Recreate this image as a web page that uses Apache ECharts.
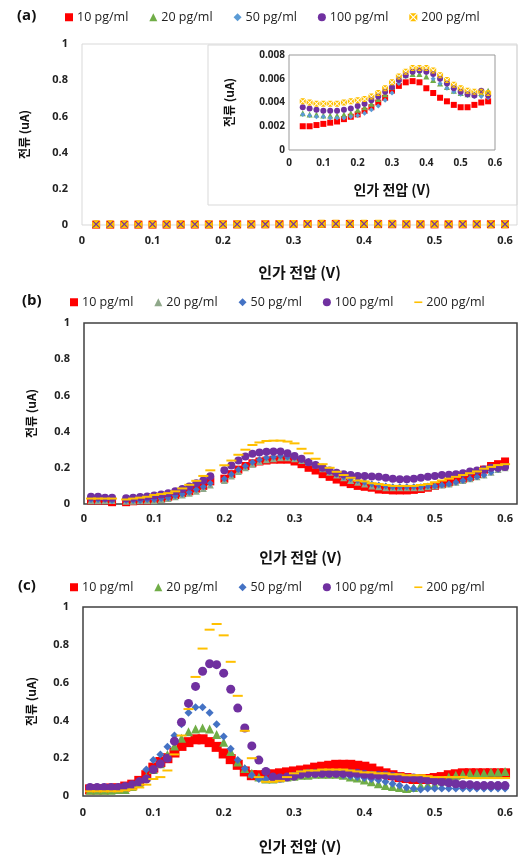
<!DOCTYPE html>
<html>
<head>
<meta charset="utf-8">
<script src="https://cdn.jsdelivr.net/npm/echarts@6.0.0/dist/echarts.min.js"></script>
<style>
body { margin: 0; background: #fff; }
#wrap { position: relative; width: 520px; height: 859px; }
.box { position: absolute; left: 0; width: 520px; }
</style>
</head>
<body>
<div id="wrap">
  <div id="chartA" class="box" style="top:0;height:285px"></div>
  <div id="chartB" class="box" style="top:285px;height:285px"></div>
  <div id="chartC" class="box" style="top:570px;height:289px"></div>
</div>
<script>
// 범례 이름
const names = ['10 pg/ml', '20 pg/ml', '50 pg/ml', '100 pg/ml', '200 pg/ml']

// (a) 0.02 ~ 0.60 V, inset uses 0.04 ~ 0.58
const aX = [0.02, 0.04, 0.06, 0.08, 0.10, 0.12, 0.14, 0.16, 0.18, 0.20, 0.22, 0.24, 0.26, 0.28, 0.30,
  0.32, 0.34, 0.36, 0.38, 0.40, 0.42, 0.44, 0.46, 0.48, 0.50, 0.52, 0.54, 0.56, 0.58, 0.60]
const a10 = [0.0020, 0.0020, 0.0020, 0.0021, 0.0022, 0.0023, 0.0024, 0.0026, 0.0028, 0.0030, 0.0033, 0.0036, 0.0040, 0.0044, 0.0050,
  0.0054, 0.0057, 0.0058, 0.0057, 0.0052, 0.0048, 0.0044, 0.0041, 0.0038, 0.0036, 0.0036, 0.0038, 0.0040, 0.0041, 0.0042]
const a20 = [0.0031, 0.0031, 0.0030, 0.0030, 0.0029, 0.0029, 0.0029, 0.0030, 0.0031, 0.0034, 0.0036, 0.0039, 0.0043, 0.0047, 0.0053,
  0.0060, 0.0063, 0.0064, 0.0064, 0.0062, 0.0059, 0.0056, 0.0053, 0.0050, 0.0048, 0.0047, 0.0047, 0.0048, 0.0050, 0.0050]
const a50 = [0.0030, 0.0030, 0.0029, 0.0028, 0.0028, 0.0027, 0.0027, 0.0027, 0.0028, 0.0029, 0.0031, 0.0034, 0.0037, 0.0042, 0.0048,
  0.0056, 0.0062, 0.0066, 0.0066, 0.0065, 0.0060, 0.0056, 0.0052, 0.0049, 0.0047, 0.0046, 0.0045, 0.0045, 0.0044, 0.0044]
const a100 = [0.0036, 0.0036, 0.0035, 0.0034, 0.0033, 0.0033, 0.0033, 0.0034, 0.0035, 0.0037, 0.0039, 0.0042, 0.0045, 0.0049, 0.0053,
  0.0059, 0.0063, 0.0066, 0.0067, 0.0066, 0.0064, 0.0060, 0.0056, 0.0052, 0.0049, 0.0047, 0.0046, 0.0050, 0.0046, 0.0046]
const a200 = [0.0041, 0.0041, 0.0040, 0.0039, 0.0039, 0.0039, 0.0039, 0.0040, 0.0041, 0.0042, 0.0043, 0.0045, 0.0048, 0.0052, 0.0057,
  0.0062, 0.0066, 0.0069, 0.0069, 0.0069, 0.0067, 0.0063, 0.0059, 0.0055, 0.0052, 0.0050, 0.0049, 0.0049, 0.0048, 0.0048]

// (b) 0.05, 0.19 V 빠짐
const bX = [0.01, 0.02, 0.03, 0.04,
  0.06, 0.07, 0.08, 0.09, 0.10, 0.11, 0.12, 0.13, 0.14, 0.15, 0.16, 0.17, 0.18,
  0.20, 0.21, 0.22, 0.23, 0.24, 0.25, 0.26, 0.27, 0.28, 0.29, 0.30, 0.31, 0.32, 0.33, 0.34, 0.35, 0.36, 0.37, 0.38, 0.39, 0.40,
  0.41, 0.42, 0.43, 0.44, 0.45, 0.46, 0.47, 0.48, 0.49, 0.50, 0.51, 0.52, 0.53, 0.54, 0.55, 0.56, 0.57, 0.58, 0.59, 0.60]
const b10 = [0.02, 0.02, 0.02, 0.01,
  0.01, 0.015, 0.02, 0.02, 0.025, 0.03, 0.04, 0.05, 0.06, 0.07, 0.085, 0.10, 0.125,
  0.14, 0.165, 0.19, 0.21, 0.225, 0.235, 0.24, 0.245, 0.245, 0.245, 0.235, 0.22, 0.20, 0.185, 0.165, 0.15, 0.135, 0.12, 0.11, 0.10, 0.095,
  0.09, 0.08, 0.078, 0.075, 0.075, 0.075, 0.078, 0.083, 0.09, 0.10, 0.11, 0.12, 0.135, 0.14, 0.15, 0.165, 0.19, 0.21, 0.22, 0.235]
const b20 = [0.02, 0.02, 0.02, 0.02,
  0.015, 0.015, 0.02, 0.02, 0.02, 0.025, 0.03, 0.04, 0.05, 0.06, 0.07, 0.085, 0.105,
  0.13, 0.155, 0.18, 0.20, 0.22, 0.235, 0.245, 0.25, 0.255, 0.255, 0.25, 0.24, 0.23, 0.215, 0.195, 0.175, 0.16, 0.145, 0.13, 0.12, 0.11,
  0.10, 0.095, 0.09, 0.09, 0.09, 0.09, 0.09, 0.09, 0.095, 0.10, 0.105, 0.11, 0.12, 0.13, 0.14, 0.15, 0.16, 0.175, 0.19, 0.20]
const b50 = [0.025, 0.025, 0.025, 0.02,
  0.02, 0.02, 0.02, 0.025, 0.025, 0.03, 0.035, 0.045, 0.055, 0.065, 0.08, 0.095, 0.115,
  0.14, 0.165, 0.19, 0.21, 0.23, 0.245, 0.255, 0.26, 0.265, 0.26, 0.255, 0.245, 0.235, 0.22, 0.20, 0.18, 0.165, 0.15, 0.14, 0.13, 0.12,
  0.11, 0.105, 0.10, 0.095, 0.095, 0.095, 0.095, 0.095, 0.10, 0.10, 0.105, 0.11, 0.12, 0.13, 0.14, 0.15, 0.16, 0.175, 0.19, 0.205]
const b100 = [0.04, 0.04, 0.035, 0.035,
  0.032, 0.035, 0.038, 0.041, 0.047, 0.053, 0.06, 0.07, 0.083, 0.097, 0.114, 0.13, 0.153,
  0.186, 0.213, 0.24, 0.263, 0.277, 0.285, 0.288, 0.29, 0.29, 0.28, 0.265, 0.25, 0.23, 0.215, 0.20, 0.185, 0.172, 0.165, 0.16, 0.155, 0.155,
  0.152, 0.15, 0.145, 0.14, 0.137, 0.137, 0.14, 0.145, 0.15, 0.155, 0.16, 0.162, 0.165, 0.17, 0.18, 0.185, 0.19, 0.20, 0.20, 0.205]
const b200 = [0.03, 0.03, 0.03, 0.03,
  0.025, 0.03, 0.035, 0.04, 0.05, 0.055, 0.06, 0.07, 0.086, 0.106, 0.128, 0.155, 0.186,
  0.214, 0.24, 0.272, 0.30, 0.326, 0.34, 0.348, 0.35, 0.35, 0.345, 0.335, 0.305, 0.28, 0.25, 0.22, 0.20, 0.178, 0.16, 0.145, 0.13, 0.125,
  0.115, 0.11, 0.105, 0.10, 0.10, 0.10, 0.10, 0.105, 0.11, 0.12, 0.13, 0.14, 0.15, 0.16, 0.17, 0.18, 0.195, 0.205, 0.215, 0.22]

// (c) 0.01 ~ 0.60 V
const cX = [0.01, 0.02, 0.03, 0.04, 0.05, 0.06, 0.07, 0.08, 0.09, 0.10,
  0.11, 0.12, 0.13, 0.14, 0.15, 0.16, 0.17, 0.18, 0.19, 0.20,
  0.21, 0.22, 0.23, 0.24, 0.25, 0.26, 0.27, 0.28, 0.29, 0.30,
  0.31, 0.32, 0.33, 0.34, 0.35, 0.36, 0.37, 0.38, 0.39, 0.40,
  0.41, 0.42, 0.43, 0.44, 0.45, 0.46, 0.47, 0.48, 0.49, 0.50,
  0.51, 0.52, 0.53, 0.54, 0.55, 0.56, 0.57, 0.58, 0.59, 0.60]
const c10 = [0.035, 0.035, 0.035, 0.04, 0.04, 0.05, 0.06, 0.08, 0.11, 0.15,
  0.18, 0.20, 0.23, 0.265, 0.285, 0.30, 0.30, 0.285, 0.26, 0.225,
  0.195, 0.165, 0.13, 0.11, 0.11, 0.11, 0.115, 0.12, 0.125, 0.13,
  0.135, 0.14, 0.15, 0.155, 0.16, 0.165, 0.165, 0.165, 0.16, 0.155,
  0.145, 0.13, 0.12, 0.11, 0.10, 0.095, 0.09, 0.09, 0.09, 0.095,
  0.10, 0.11, 0.115, 0.12, 0.12, 0.12, 0.12, 0.12, 0.12, 0.12]
const c20 = [0.03, 0.03, 0.03, 0.03, 0.035, 0.035, 0.05, 0.07, 0.10, 0.14,
  0.17, 0.22, 0.265, 0.305, 0.34, 0.355, 0.36, 0.355, 0.325, 0.285,
  0.235, 0.18, 0.145, 0.12, 0.10, 0.09, 0.09, 0.095, 0.10, 0.105,
  0.11, 0.11, 0.115, 0.115, 0.115, 0.115, 0.11, 0.10, 0.095, 0.085,
  0.075, 0.065, 0.055, 0.05, 0.045, 0.04, 0.045, 0.055, 0.06, 0.06,
  0.08, 0.10, 0.11, 0.115, 0.12, 0.12, 0.12, 0.125, 0.125, 0.13]
const c50 = [0.04, 0.04, 0.04, 0.04, 0.045, 0.045, 0.055, 0.08, 0.14, 0.19,
  0.22, 0.26, 0.32, 0.38, 0.44, 0.47, 0.47, 0.44, 0.38, 0.315,
  0.25, 0.19, 0.145, 0.11, 0.09, 0.09, 0.09, 0.095, 0.10, 0.105,
  0.11, 0.115, 0.115, 0.115, 0.115, 0.115, 0.11, 0.105, 0.10, 0.095,
  0.09, 0.085, 0.075, 0.065, 0.055, 0.045, 0.04, 0.035, 0.04, 0.04,
  0.04, 0.04, 0.04, 0.04, 0.04, 0.04, 0.04, 0.04, 0.04, 0.04]
const c100 = [0.045, 0.045, 0.045, 0.045, 0.045, 0.05, 0.06, 0.075, 0.09, 0.14,
  0.17, 0.20, 0.29, 0.39, 0.49, 0.58, 0.66, 0.70, 0.695, 0.65,
  0.565, 0.465, 0.36, 0.265, 0.19, 0.13, 0.10, 0.095, 0.10, 0.105,
  0.115, 0.12, 0.12, 0.12, 0.12, 0.12, 0.12, 0.12, 0.12, 0.115,
  0.11, 0.11, 0.11, 0.105, 0.10, 0.095, 0.095, 0.09, 0.085, 0.08,
  0.075, 0.07, 0.065, 0.06, 0.06, 0.055, 0.055, 0.055, 0.055, 0.055]
const c200 = [0.025, 0.025, 0.025, 0.025, 0.025, 0.03, 0.035, 0.045, 0.06, 0.09,
  0.10, 0.135, 0.22, 0.32, 0.46, 0.63, 0.78, 0.88, 0.91, 0.85,
  0.71, 0.53, 0.345, 0.20, 0.10, 0.075, 0.075, 0.08, 0.10, 0.12,
  0.13, 0.135, 0.135, 0.14, 0.14, 0.14, 0.14, 0.135, 0.13, 0.125,
  0.125, 0.12, 0.12, 0.115, 0.115, 0.11, 0.11, 0.11, 0.105, 0.10,
  0.10, 0.10, 0.10, 0.10, 0.095, 0.095, 0.095, 0.095, 0.095, 0.095]

const FONT = "'Open Sans', 'Noto Sans CJK KR', sans-serif"
const KFONT = "'Noto Sans CJK KR', 'Open Sans', sans-serif"
// 네모 안에 X (200 pg/ml, (a))
const XBOX = 'path://M1,0 L9,0 L5,4 Z M10,1 L10,9 L6,5 Z M9,10 L1,10 L5,6 Z M0,9 L0,1 L4,5 Z'
const DASH = 'path://M0,0 L10,0 L10,2 L0,2 Z'

function pts(xs, ys) {
  return xs.map((x, i) => [x, ys[i]])
}

function ser(name, xs, ys, symbol, size, color, idx) {
  return {
    name: name,
    type: 'scatter',
    xAxisIndex: idx || 0,
    yAxisIndex: idx || 0,
    symbol: symbol,
    symbolSize: size,
    itemStyle: { color: color, opacity: 1 },
    data: pts(xs, ys)
  }
}

function legend(left, icons, colors) {
  return {
    left: left,
    top: 6,
    itemWidth: 8,
    itemHeight: 8,
    itemGap: 21,
    textStyle: { fontFamily: FONT, fontSize: 12.5, color: '#222', padding: [0, 0, 0, -1] },
    data: names.map((n, i) => ({ name: n, icon: icons[i], itemStyle: { color: colors[i] } }))
  }
}

function xAx(grid, max, gap, lblMargin) {
  return {
    gridIndex: grid,
    type: 'value',
    min: 0,
    max: max,
    interval: 0.1,
    axisLine: { show: false },
    axisTick: { show: false },
    splitLine: { show: false },
    axisLabel: {
      margin: lblMargin,
      fontFamily: FONT,
      fontSize: 11,
      fontWeight: 'bold',
      color: '#222',
      formatter: v => (v > 0.6001 ? '' : String(+v.toFixed(1)))
    },
    name: '인가 전압 (V)',
    nameLocation: 'middle',
    nameGap: gap,
    nameTextStyle: { fontFamily: KFONT, fontSize: 15, fontWeight: 'bold', color: '#111' }
  }
}

function yAx(grid, gap) {
  return {
    gridIndex: grid,
    type: 'value',
    min: 0,
    max: 1,
    interval: 0.2,
    axisLine: { show: false },
    axisTick: { show: false },
    splitLine: { show: false },
    axisLabel: {
      margin: 14,
      fontFamily: FONT,
      fontSize: 11,
      fontWeight: 'bold',
      color: '#222',
      formatter: v => String(+v.toFixed(1))
    },
    name: '전류 (uA)',
    nameLocation: 'middle',
    nameRotate: 90,
    nameGap: gap,
    nameTextStyle: { fontFamily: KFONT, fontSize: 12, fontWeight: 'bold', color: '#111' }
  }
}

function panelTitle(text, left) {
  return { text: text, left: left, top: 3, textStyle: { fontFamily: FONT, fontSize: 15, fontWeight: 'bold', color: '#111' } }
}

// (a) 본 그래프 + 삽입 그래프
function initA() {
  const chart = echarts.init(document.getElementById('chartA'))
  const colors = ['#ff0000', '#70ad47', '#5b9bd5', '#7030a0', '#ffc000']
  const inX = aX.slice(1, 29)
  const ys = [a10, a20, a50, a100, a200]
  const syms = ['rect', 'triangle', 'diamond', 'circle', XBOX]
  const mainSize = [8, 7, 7, 7, 8]
  const inSize = [6, 6, 5, 6, 6]

  const series = []
  ys.forEach((y, i) => series.push(ser(names[i], aX, y, syms[i], mainSize[i], colors[i], 0)))
  ys.forEach((y, i) => series.push(ser(names[i], inX, y.slice(1, 29), syms[i], inSize[i], colors[i], 1)))

  const ixAx = xAx(1, 0.6, 33, 8)
  ixAx.axisLabel.fontSize = 10
  ixAx.nameTextStyle.fontSize = 14
  const iyAx = yAx(1, 54)
  iyAx.max = 0.008
  iyAx.interval = 0.002
  iyAx.axisLabel.margin = 4
  iyAx.axisLabel.fontSize = 10
  iyAx.axisLabel.formatter = v => (v === 0 ? '0' : v.toFixed(3))

  chart.setOption({
    animation: false,
    title: panelTitle('(a)', 12),
    legend: legend(60, syms, colors),
    graphic: [{
      type: 'rect',
      z: -10,
      shape: { x: 208, y: 45, width: 309, height: 160 },
      style: { fill: '#fff', stroke: '#d9d9d9', lineWidth: 1 }
    }],
    grid: [
      { left: 82, right: 1, top: 44, height: 185, show: true, borderColor: '#d9d9d9', borderWidth: 1 },
      { left: 289, width: 206, top: 55, height: 95, show: true, borderColor: '#999', borderWidth: 1 }
    ],
    xAxis: [xAx(0, 0.617, 40, 10), ixAx],
    yAxis: [yAx(0, 52), iyAx],
    series: series
  })
}

// (b)
function initB() {
  const chart = echarts.init(document.getElementById('chartB'))
  const colors = ['#ff0000', '#8fa88a', '#4472c4', '#7030a0', '#ffc000']
  const ys = [b10, b20, b50, b100, b200]
  const syms = ['rect', 'triangle', 'diamond', 'circle', 'rect']
  const sizes = [8, 7, 7, 8, [10, 2]]
  const series = ys.map((y, i) => ser(names[i], bX, y, syms[i], sizes[i], colors[i], 0))

  chart.setOption({
    animation: false,
    title: panelTitle('(b)', 17),
    legend: legend(65, ['rect', 'triangle', 'diamond', 'circle', DASH], colors),
    grid: { left: 84, right: 2, top: 38, height: 184, show: true, borderColor: '#404040', borderWidth: 1.5 },
    xAxis: xAx(0, 0.617, 46, 9),
    yAxis: yAx(0, 47),
    series: series
  })
}

// (c)
function initC() {
  const chart = echarts.init(document.getElementById('chartC'))
  const colors = ['#ff0000', '#70ad47', '#4472c4', '#7030a0', '#ffc000']
  const ys = [c10, c20, c50, c100, c200]
  const syms = ['rect', 'triangle', 'diamond', 'circle', 'rect']
  const sizes = [10, 9, 8, 9, [10, 2]]
  const series = ys.map((y, i) => ser(names[i], cX, y, syms[i], sizes[i], colors[i], 0))

  chart.setOption({
    animation: false,
    title: panelTitle('(c)', 13),
    legend: legend(65, ['rect', 'triangle', 'diamond', 'circle', DASH], colors),
    grid: { left: 83, right: 2, top: 37, height: 198, show: true, borderColor: '#404040', borderWidth: 1.5 },
    xAxis: xAx(0, 0.617, 43, 11),
    yAxis: yAx(0, 46),
    series: series
  })
}

initA()
initB()
initC()
</script>
</body>
</html>
